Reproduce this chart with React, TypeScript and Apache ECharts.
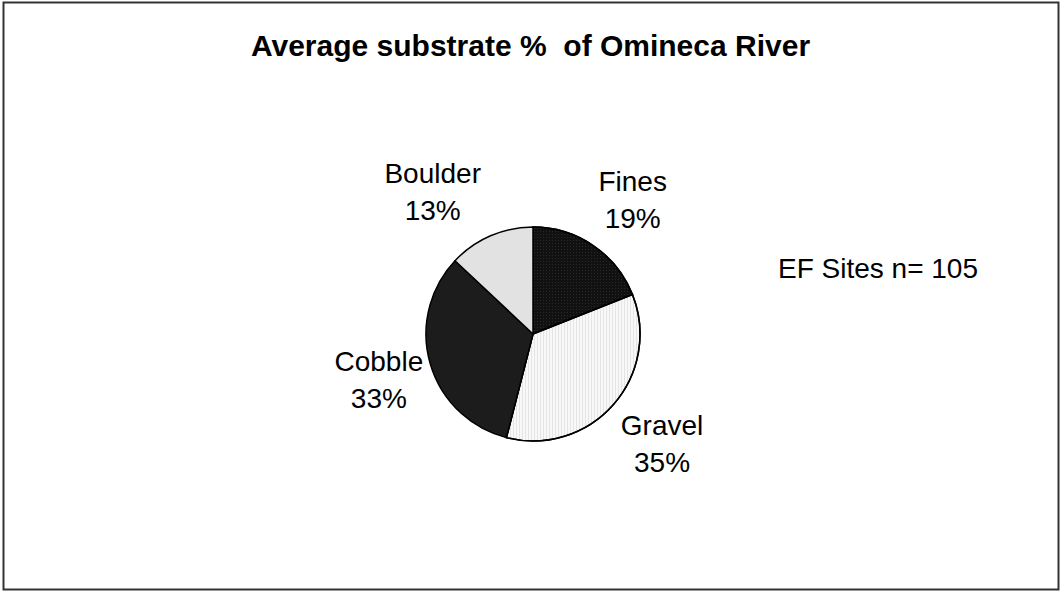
import React, { useEffect, useRef } from "react";
import * as echarts from "echarts";

const titleText = "Average substrate %  of Omineca River";
const categories = ["Fines", "Gravel", "Cobble", "Boulder"];
const values = [19, 35, 33, 13];
const sliceColors = ["#111111", "#f8f8f8", "#1c1c1c", "#e2e2e2"];
const noteText = "EF Sites n= 105";
// small nudges of each label from its radial spot, in pixels
const labelNudges: [number, number][] = [
  [3, 8],
  [0, -4],
  [11, -2],
  [-32, 16],
];

export default function App() {
  const ref = useRef<HTMLDivElement>(null);
  useEffect(() => {
    if (!ref.current) return;
    const chart = echarts.init(ref.current, undefined, { renderer: "svg" });
    const decals: any[] = [
      { symbol: "rect", symbolSize: 1, color: "rgba(255,255,255,0.1)", dashArrayX: [1, 2], dashArrayY: [1, 2] },
      { symbol: "rect", symbolSize: 1, color: "rgba(0,0,0,0.08)", dashArrayX: [1, 2], dashArrayY: [1, 0] },
      null,
      null,
    ];
    const data = categories.map((c, i) => ({
      name: c,
      value: values[i],
      itemStyle: decals[i]
        ? { color: sliceColors[i], decal: decals[i] }
        : { color: sliceColors[i] },
    }));
    const font = "Arial, 'Liberation Sans', sans-serif";
    chart.setOption({
      animation: false,
      backgroundColor: "#ffffff",
      title: {
        text: titleText,
        left: "center",
        top: 25,
        textStyle: { fontFamily: font, fontSize: 30, fontWeight: "bold", color: "#000" },
      },
      graphic: [
        {
          type: "rect",
          shape: { x: 3.5, y: 2.5, width: 1055, height: 587 },
          style: { fill: "none", stroke: "#333", lineWidth: 2 },
        },
        {
          type: "text",
          x: 778,
          y: 254,
          style: { text: noteText, font: `28px ${font}`, fill: "#000" },
        },
      ],
      series: [
        {
          type: "pie",
          center: [533, 334],
          radius: [0, 107],
          startAngle: 90,
          clockwise: true,
          data,
          label: { show: false },
          labelLine: { show: false },
          itemStyle: { borderColor: "#000", borderWidth: 1.5 },
          emphasis: { disabled: true },
          silent: true,
        },
        {
          type: "pie",
          center: [533, 334],
          radius: [159, 179],
          startAngle: 90,
          clockwise: true,
          data: categories.map((c, i) => ({
            name: c,
            value: values[i],
            label: { offset: labelNudges[i] },
          })),
          itemStyle: { color: "rgba(0,0,0,0)" },
          label: {
            show: true,
            position: "inside",
            formatter: (p: any) => `${p.name}\n${p.value}%`,
            fontFamily: font,
            fontSize: 28,
            lineHeight: 37,
            color: "#000",
          },
          labelLine: { show: false },
          emphasis: { disabled: true },
          silent: true,
        },
      ],
    });
    return () => chart.dispose();
  }, []);
  return (
    <div
      ref={ref}
      style={{ position: "fixed", left: 0, top: 0, width: 1061, height: 592 }}
    />
  );
}
